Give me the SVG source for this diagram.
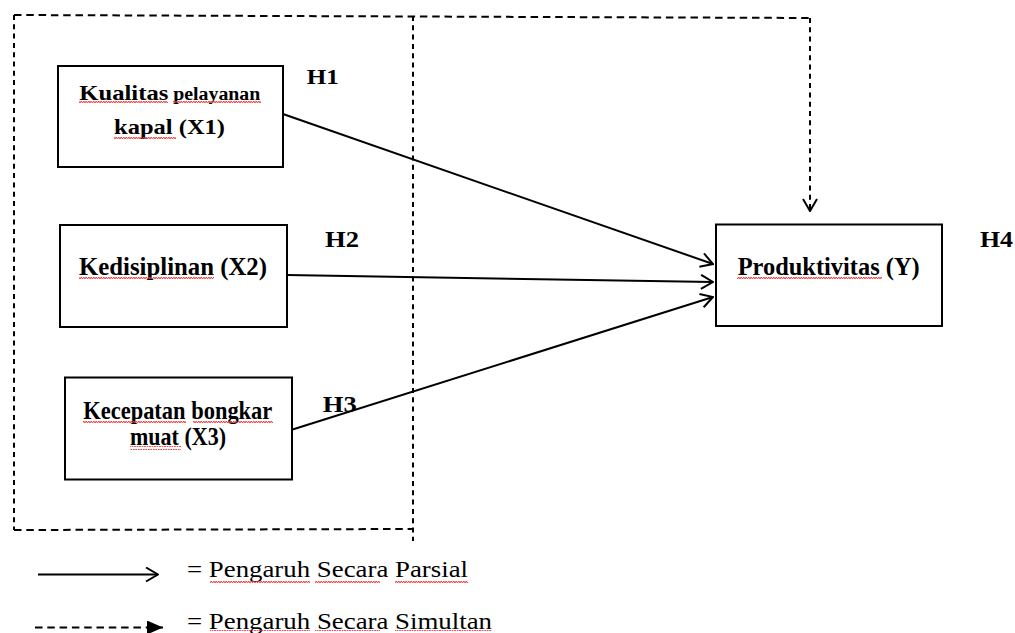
<svg xmlns="http://www.w3.org/2000/svg" width="1015" height="633" viewBox="0 0 1015 633">
<defs>
<style>
.box{fill:#fff;stroke:#000;stroke-width:2}
.lbl{font-family:"Liberation Serif","Times New Roman",serif;font-weight:bold;fill:#000}
.leg{font-family:"Liberation Serif","Times New Roman",serif;font-size:24px;fill:#000}
.solid{fill:none;stroke:#000;stroke-width:2}
.dashh{fill:none;stroke:#000;stroke-width:2;stroke-dasharray:7.5 4.8}
.dashv{fill:none;stroke:#000;stroke-width:2;stroke-dasharray:5 4.3}
.wave{fill:url(#wv)}
</style>
<pattern id="wv" x="0" y="0" width="5" height="4" patternUnits="userSpaceOnUse">
<path d="M0 3 L1.25 1 L2.5 3 L3.75 1 L5 3" fill="none" stroke="#e8393a" stroke-width="1"/>
</pattern>
<marker id="open" viewBox="0 0 14 16" refX="13" refY="8" markerWidth="14" markerHeight="16" markerUnits="userSpaceOnUse" orient="auto">
<path d="M1 1 L13 8 L1 15" fill="none" stroke="#000" stroke-width="2"/>
</marker>
<marker id="filled" viewBox="0 0 16 14" refX="16" refY="7" markerWidth="16" markerHeight="14" markerUnits="userSpaceOnUse" orient="auto">
<path d="M0 0 L16 7 L0 14 Z" fill="#000"/>
</marker>
</defs>
<rect width="1015" height="633" fill="#fff"/>

<g id="simultan-frame">
<path class="dashh" d="M14 15 L810 18"/>
<path class="dashv" d="M14 15 L14 530"/>
<path class="dashh" d="M14 530 L413 529"/>
<path class="dashv" d="M413 16 L413 541"/>
</g>

<g id="connectors">
<path class="solid" d="M283 114 L713 264" marker-end="url(#open)"/>
<path class="solid" d="M287 275 L713 282" marker-end="url(#open)"/>
<path class="solid" d="M291 430 L713 297" marker-end="url(#open)"/>
<path class="dashv" d="M810 18 L810 211" marker-end="url(#open)"/>
</g>

<g id="node-x1">
<rect class="box" x="58" y="66" width="225" height="101"/>
<text class="lbl" y="100"><tspan x="79.3" font-size="22" textLength="89" lengthAdjust="spacingAndGlyphs">Kualitas</tspan><tspan x="173.3" font-size="18" textLength="87" lengthAdjust="spacingAndGlyphs">pelayanan</tspan></text>
<text class="lbl" x="114" y="134" font-size="22" textLength="111" lengthAdjust="spacingAndGlyphs">kapal (X1)</text>
<rect class="wave" x="79" y="101" width="89" height="4"/>
<rect class="wave" x="173" y="101" width="88" height="4"/>
<rect class="wave" x="114" y="135" width="62" height="4"/>
</g>

<g id="node-x2">
<rect class="box" x="60" y="225" width="227" height="102"/>
<text class="lbl" x="79" y="275" font-size="25" textLength="188" lengthAdjust="spacingAndGlyphs">Kedisiplinan (X2)</text>
<rect class="wave" x="79" y="276" width="135" height="4"/>
</g>

<g id="node-x3">
<rect class="box" x="65" y="377.5" width="227" height="102"/>
<text class="lbl" x="83.3" y="419" font-size="25" textLength="189" lengthAdjust="spacingAndGlyphs">Kecepatan bongkar</text>
<text class="lbl" x="130" y="445" font-size="25" textLength="96" lengthAdjust="spacingAndGlyphs">muat (X3)</text>
<rect class="wave" x="83" y="420" width="103" height="4"/>
<rect class="wave" x="193" y="420" width="80" height="4"/>
<rect class="wave" x="130" y="446" width="51" height="4"/>
</g>

<g id="node-y">
<rect class="box" x="716" y="224.5" width="226" height="101.5"/>
<text class="lbl" x="737.7" y="275" font-size="25" textLength="182" lengthAdjust="spacingAndGlyphs">Produktivitas (Y)</text>
<rect class="wave" x="737" y="276" width="145" height="4"/>
</g>

<g id="hypotheses">
<text class="lbl" x="306.7" y="83.5" font-size="22" textLength="32" lengthAdjust="spacingAndGlyphs">H1</text>
<text class="lbl" x="325" y="247.3" font-size="23.5" textLength="34" lengthAdjust="spacingAndGlyphs">H2</text>
<text class="lbl" x="322.7" y="412.3" font-size="23.5" textLength="34" lengthAdjust="spacingAndGlyphs">H3</text>
<text class="lbl" x="980" y="247" font-size="23" textLength="33" lengthAdjust="spacingAndGlyphs">H4</text>
</g>

<g id="legend">
<path class="solid" d="M38 574.5 L158 574.5" marker-end="url(#open)"/>
<text class="leg" x="187" y="577" textLength="281" lengthAdjust="spacingAndGlyphs">= Pengaruh Secara Parsial</text>
<rect class="wave" x="210" y="579" width="100" height="4"/>
<rect class="wave" x="315" y="579" width="65" height="4"/>
<rect class="wave" x="395" y="579" width="73" height="4"/>
<path class="dashh" d="M35 627.5 L163 627.5" marker-end="url(#filled)"/>
<text class="leg" x="187" y="629" textLength="305" lengthAdjust="spacingAndGlyphs">= Pengaruh Secara Simultan</text>
<rect class="wave" x="210" y="630" width="100" height="3"/>
<rect class="wave" x="315" y="630" width="65" height="3"/>
<rect class="wave" x="395" y="630" width="97" height="3"/>
</g>
</svg>
